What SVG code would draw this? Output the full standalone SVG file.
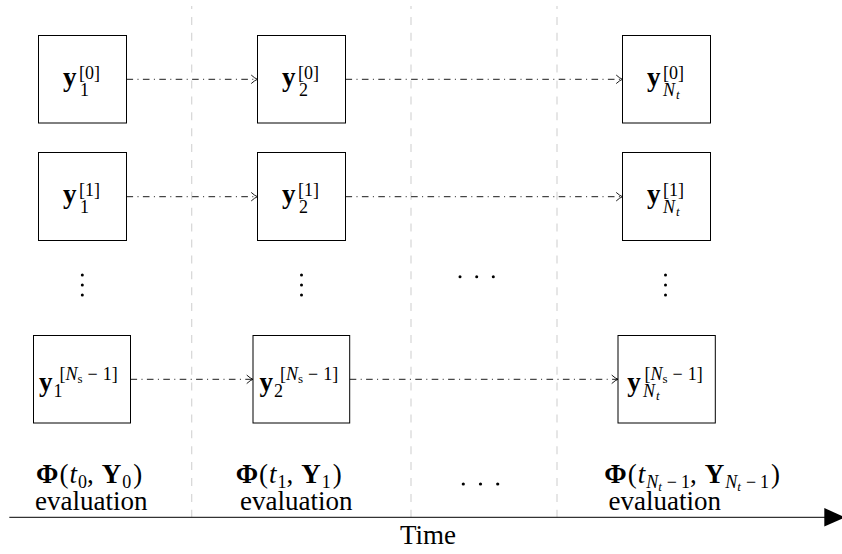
<svg xmlns="http://www.w3.org/2000/svg" width="842" height="554" viewBox="0 0 842 554">
<style>
  text { font-family: "Liberation Serif", Tinos, "Times New Roman", "DejaVu Serif", serif; fill: #000; }
  .box { fill: #fff; stroke: #000; stroke-width: 1; }
  .main { font-size: 27px; }
  .b { font-weight: bold; }
  .i { font-style: italic; }
  .s { font-size: 18px; }
  .ss { font-size: 13px; }
  .grid { stroke: #d6d6d6; stroke-width: 1.2; stroke-dasharray: 8 7.9; stroke-dashoffset: 5; fill: none; }
  .flow { fill: none; stroke: #000; stroke-width: 0.9; stroke-dasharray: 6.6 4.4 1 4.4; marker-end: url(#to); }
  .axis { stroke: #000; stroke-width: 1; fill: none; }
  .dot { fill: #000; }
</style>
<defs>
  <marker id="to" markerUnits="userSpaceOnUse" markerWidth="10" markerHeight="10" viewBox="-7 -5 8 10" refX="0" refY="0" orient="auto" overflow="visible">
    <path d="M -6 -4 Q -2.5 -0.8 0 0 Q -2.5 0.8 -6 4" fill="none" stroke="#000" stroke-width="0.9" stroke-linecap="round"/>
  </marker>
</defs>

<g id="gridlines">
  <line class="grid" x1="191.7" y1="6" x2="191.7" y2="517"/>
  <line class="grid" x1="411" y1="6" x2="411" y2="517"/>
  <line class="grid" x1="557" y1="6" x2="557" y2="517"/>
</g>

<g id="connectors">
  <path class="flow" d="M126.5 79.3 H257.5"/>
  <path class="flow" d="M345.5 79.3 H622.5"/>
  <path class="flow" d="M126.5 196.7 H257.5"/>
  <path class="flow" d="M345.5 196.7 H622.5"/>
  <path class="flow" d="M130.5 379.3 H253"/>
  <path class="flow" d="M349.7 379.3 H618"/>
</g>

<!-- row 0 -->
<g id="y0-1">
  <rect class="box" x="38.5" y="35.5" width="88" height="87.5"/>
  <text><tspan class="main b" x="63" y="86">y</tspan><tspan class="s" x="79" y="79">[0]</tspan><tspan class="s" x="80" y="96">1</tspan></text>
</g>
<g id="y0-2">
  <rect class="box" x="257.5" y="35.5" width="88" height="87.5"/>
  <text><tspan class="main b" x="282" y="86">y</tspan><tspan class="s" x="298" y="79">[0]</tspan><tspan class="s" x="299" y="96">2</tspan></text>
</g>
<g id="y0-Nt">
  <rect class="box" x="622.5" y="35.5" width="88" height="87.5"/>
  <text><tspan class="main b" x="647" y="86">y</tspan><tspan class="s" x="663" y="79">[0]</tspan><tspan class="s i" x="663" y="96">N</tspan><tspan class="ss i" x="676" y="98.5">t</tspan></text>
</g>

<!-- row 1 -->
<g id="y1-1">
  <rect class="box" x="38.5" y="152.5" width="88" height="88"/>
  <text><tspan class="main b" x="63" y="203.4">y</tspan><tspan class="s" x="79" y="196.4">[1]</tspan><tspan class="s" x="80" y="213.4">1</tspan></text>
</g>
<g id="y1-2">
  <rect class="box" x="257.5" y="152.5" width="88" height="88"/>
  <text><tspan class="main b" x="282" y="203.4">y</tspan><tspan class="s" x="298" y="196.4">[1]</tspan><tspan class="s" x="299" y="213.4">2</tspan></text>
</g>
<g id="y1-Nt">
  <rect class="box" x="622.5" y="152.5" width="88" height="88"/>
  <text><tspan class="main b" x="647" y="203.4">y</tspan><tspan class="s" x="663" y="196.4">[1]</tspan><tspan class="s i" x="663" y="213.4">N</tspan><tspan class="ss i" x="676" y="215.9">t</tspan></text>
</g>

<!-- vertical and horizontal dots -->
<g id="vdots">
  <circle class="dot" cx="82.3" cy="275" r="1.5"/><circle class="dot" cx="82.3" cy="285" r="1.5"/><circle class="dot" cx="82.3" cy="295" r="1.5"/>
  <circle class="dot" cx="301.5" cy="275" r="1.5"/><circle class="dot" cx="301.5" cy="285" r="1.5"/><circle class="dot" cx="301.5" cy="295" r="1.5"/>
  <circle class="dot" cx="665.5" cy="275" r="1.5"/><circle class="dot" cx="665.5" cy="285" r="1.5"/><circle class="dot" cx="665.5" cy="295" r="1.5"/>
  <circle class="dot" cx="460" cy="276.7" r="1.5"/><circle class="dot" cx="476.7" cy="276.7" r="1.5"/><circle class="dot" cx="493.3" cy="276.7" r="1.5"/>
</g>

<!-- row Ns-1 -->
<g id="yN-1">
  <rect class="box" x="33.5" y="335.5" width="97" height="87.5"/>
  <text><tspan class="main b" x="39" y="391">y</tspan><tspan class="s" x="53.5" y="397">1</tspan></text>
  <text class="s" x="59.5" y="380">[<tspan class="i">N</tspan><tspan class="ss" dy="3">s</tspan><tspan dy="-3" dx="5">−</tspan><tspan dx="5">1]</tspan></text>
</g>
<g id="yN-2">
  <rect class="box" x="253" y="335.5" width="96.7" height="87.5"/>
  <text><tspan class="main b" x="259.5" y="391">y</tspan><tspan class="s" x="274" y="397">2</tspan></text>
  <text class="s" x="280" y="380">[<tspan class="i">N</tspan><tspan class="ss" dy="3">s</tspan><tspan dy="-3" dx="5">−</tspan><tspan dx="5">1]</tspan></text>
</g>
<g id="yN-Nt">
  <rect class="box" x="618" y="335.5" width="97.3" height="87.5"/>
  <text><tspan class="main b" x="627.3" y="391">y</tspan><tspan class="s i" x="643" y="397">N</tspan><tspan class="ss i" x="656" y="399.5">t</tspan></text>
  <text class="s" x="644.5" y="380">[<tspan class="i">N</tspan><tspan class="ss" dy="3">s</tspan><tspan dy="-3" dx="5">−</tspan><tspan dx="5">1]</tspan></text>
</g>

<!-- evaluation labels -->
<g id="eval-0">
  <text class="main" x="36" y="483"><tspan class="b">Φ</tspan><tspan dx="1">(</tspan><tspan class="i" dx="1">t</tspan><tspan class="s" dy="5" dx="1">0</tspan><tspan dy="-5">,</tspan><tspan class="b" dx="8">Y</tspan><tspan class="s" dy="5" dx="1">0</tspan><tspan dy="-5" dx="2">)</tspan></text>
  <text class="main" x="35" y="509.5">evaluation</text>
</g>
<g id="eval-1">
  <text class="main" x="235.7" y="483"><tspan class="b">Φ</tspan><tspan dx="1">(</tspan><tspan class="i" dx="1">t</tspan><tspan class="s" dy="5" dx="1">1</tspan><tspan dy="-5">,</tspan><tspan class="b" dx="8">Y</tspan><tspan class="s" dy="5" dx="1">1</tspan><tspan dy="-5" dx="2">)</tspan></text>
  <text class="main" x="240" y="509.5">evaluation</text>
</g>
<g id="eval-mid">
  <circle class="dot" cx="463.3" cy="484" r="1.6"/><circle class="dot" cx="480.5" cy="484" r="1.6"/><circle class="dot" cx="497.7" cy="484" r="1.6"/>
</g>
<g id="eval-Nt">
  <text class="main" x="604.3" y="483"><tspan class="b">Φ</tspan><tspan dx="1">(</tspan><tspan class="i" dx="1">t</tspan><tspan class="s i" dy="5" dx="1">N</tspan><tspan class="ss i" dy="2.5">t</tspan><tspan class="s" dy="-2.5" dx="5">−</tspan><tspan class="s" dx="4">1</tspan><tspan dy="-5">,</tspan><tspan class="b" dx="8">Y</tspan><tspan class="s i" dy="5" dx="1">N</tspan><tspan class="ss i" dy="2.5">t</tspan><tspan class="s" dy="-2.5" dx="5">−</tspan><tspan class="s" dx="4">1</tspan><tspan dy="-5" dx="2">)</tspan></text>
  <text class="main" x="608.5" y="509.5">evaluation</text>
</g>

<g id="time-axis">
  <line class="axis" x1="9.3" y1="517.3" x2="826" y2="517.3"/>
  <polygon points="824.3,508 845,517.3 824.3,526.6" fill="#000"/>
  <text class="main" x="400" y="544">Time</text>
</g>
</svg>
